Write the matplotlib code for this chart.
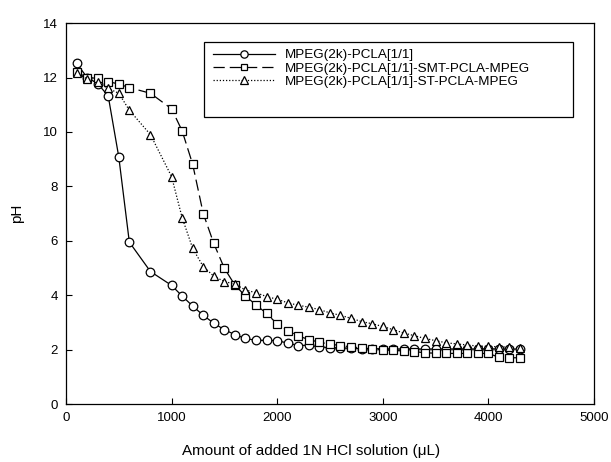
import matplotlib
matplotlib.use("Agg")
import matplotlib.pyplot as plt
from matplotlib.patches import Rectangle

plt.rcParams["font.family"] = ["Liberation Sans", "DejaVu Sans"]

# volume of 1N HCl added (uL), shared by all three titrations
added_ul = [100, 200, 300, 400, 500, 600, 800,
            1000, 1100, 1200, 1300, 1400, 1500, 1600, 1700, 1800, 1900,
            2000, 2100, 2200, 2300, 2400, 2500, 2600, 2700, 2800, 2900,
            3000, 3100, 3200, 3300, 3400, 3500, 3600, 3700, 3800, 3900,
            4000, 4100, 4200, 4300]

ph_pcla = [12.53, 12.0, 11.78, 11.32, 9.08, 5.95, 4.87,
           4.36, 3.97, 3.60, 3.26, 2.97, 2.73, 2.55, 2.41, 2.34, 2.34,
           2.33, 2.24, 2.15, 2.16, 2.10, 2.07, 2.06, 2.05, 2.04, 2.03,
           2.03, 2.02, 2.02, 2.02, 2.02, 2.02, 2.02, 2.02, 2.02, 2.02,
           2.03, 2.02, 2.02, 2.02]

ph_smt = [12.20, 12.0, 11.97, 11.85, 11.76, 11.63, 11.42,
          10.85, 10.04, 8.81, 7.00, 5.90, 4.99, 4.37, 3.97, 3.64, 3.33,
          2.94, 2.70, 2.50, 2.37, 2.27, 2.20, 2.15, 2.10, 2.06, 2.03,
          2.00, 1.97, 1.95, 1.93, 1.88, 1.87, 1.86, 1.86, 1.86, 1.86,
          1.86, 1.72, 1.70, 1.70]

ph_st = [12.15, 11.95, 11.82, 11.60, 11.42, 10.80, 9.90,
         8.36, 6.85, 5.72, 5.05, 4.70, 4.50, 4.41, 4.19, 4.09, 3.95,
         3.85, 3.72, 3.63, 3.56, 3.47, 3.35, 3.26, 3.15, 3.03, 2.95,
         2.85, 2.73, 2.61, 2.51, 2.41, 2.33, 2.25, 2.21, 2.17, 2.13,
         2.12, 2.10, 2.09, 2.07]

labels = ["MPEG(2k)-PCLA[1/1]",
          "MPEG(2k)-PCLA[1/1]-SMT-PCLA-MPEG",
          "MPEG(2k)-PCLA[1/1]-ST-PCLA-MPEG"]

fig = plt.figure(figsize=(6.11, 4.62), dpi=100)
ax = fig.add_axes([0.108, 0.1255, 0.864, 0.8245])

common = dict(color="black", lw=0.9, mfc="white", mec="black", mew=0.9)
ax.plot(added_ul, ph_pcla, "-", marker="o", ms=6.2, label=labels[0], **common)
ax.plot(added_ul, ph_smt, marker="s", ms=5.6, ls=(0, (9, 4)), label=labels[1], **common)
ax.plot(added_ul, ph_st, marker="^", ms=6.2, ls=(0, (1, 1.5)), label=labels[2], **common)

ax.set_xlim(0, 5000)
ax.set_ylim(0, 14)
ax.set_xticks([0, 1000, 2000, 3000, 4000, 5000])
ax.set_yticks([0, 2, 4, 6, 8, 10, 12, 14])
ax.tick_params(direction="in", length=4, width=0.8, labelsize=9.5, pad=6)
for s in ax.spines.values():
    s.set_linewidth(0.9)

ax.set_xlabel("Amount of added 1N HCl solution (\u03bcL)", fontsize=11)
ax.xaxis.set_label_coords(0.464, -0.105)
ax.set_ylabel("pH", fontsize=11)
ax.yaxis.set_label_coords(-0.08, 0.5)

leg = ax.legend(loc="upper left", bbox_to_anchor=(0.279, 0.932), frameon=False,
                fontsize=9.7, handlelength=4.6, handletextpad=0.75, markerscale=0.85,
                labelspacing=0.05, borderpad=0, borderaxespad=0)
ax.add_patch(Rectangle((0.261, 0.753), 0.699, 0.197, transform=ax.transAxes,
                       fill=False, ec="black", lw=0.9, zorder=5))

fig.savefig("out.png", dpi=100)
